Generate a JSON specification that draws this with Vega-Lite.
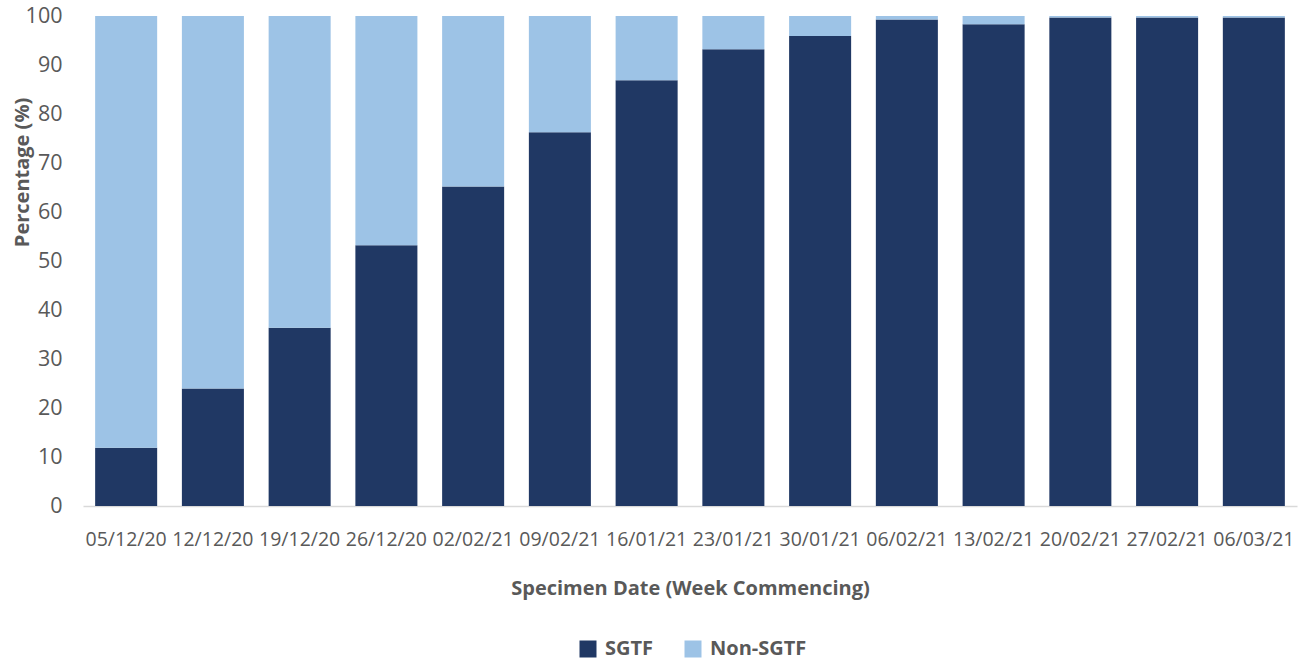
{
  "$schema": "https://vega.github.io/schema/vega-lite/v6.json",
  "width": 1214,
  "height": 490,
  "autosize": {"type": "none"},
  "padding": {"left": 83, "top": 16, "right": 3, "bottom": 154},
  "background": "white",
  "config": {
    "view": {"stroke": null},
    "font": "Open Sans",
    "axis": {"labelColor": "#595959", "titleColor": "#595959"},
    "legend": {"labelColor": "#595959"}
  },
  "data": {
    "values": [
      {"date": "05/12/20", "series": "SGTF", "value": 11.9},
      {"date": "05/12/20", "series": "Non-SGTF", "value": 88.1},
      {"date": "12/12/20", "series": "SGTF", "value": 24.0},
      {"date": "12/12/20", "series": "Non-SGTF", "value": 76.0},
      {"date": "19/12/20", "series": "SGTF", "value": 36.4},
      {"date": "19/12/20", "series": "Non-SGTF", "value": 63.6},
      {"date": "26/12/20", "series": "SGTF", "value": 53.2},
      {"date": "26/12/20", "series": "Non-SGTF", "value": 46.8},
      {"date": "02/02/21", "series": "SGTF", "value": 65.2},
      {"date": "02/02/21", "series": "Non-SGTF", "value": 34.8},
      {"date": "09/02/21", "series": "SGTF", "value": 76.3},
      {"date": "09/02/21", "series": "Non-SGTF", "value": 23.7},
      {"date": "16/01/21", "series": "SGTF", "value": 86.9},
      {"date": "16/01/21", "series": "Non-SGTF", "value": 13.1},
      {"date": "23/01/21", "series": "SGTF", "value": 93.2},
      {"date": "23/01/21", "series": "Non-SGTF", "value": 6.8},
      {"date": "30/01/21", "series": "SGTF", "value": 95.9},
      {"date": "30/01/21", "series": "Non-SGTF", "value": 4.1},
      {"date": "06/02/21", "series": "SGTF", "value": 99.3},
      {"date": "06/02/21", "series": "Non-SGTF", "value": 0.7},
      {"date": "13/02/21", "series": "SGTF", "value": 98.3},
      {"date": "13/02/21", "series": "Non-SGTF", "value": 1.7},
      {"date": "20/02/21", "series": "SGTF", "value": 99.7},
      {"date": "20/02/21", "series": "Non-SGTF", "value": 0.3},
      {"date": "27/02/21", "series": "SGTF", "value": 99.7},
      {"date": "27/02/21", "series": "Non-SGTF", "value": 0.3},
      {"date": "06/03/21", "series": "SGTF", "value": 99.7},
      {"date": "06/03/21", "series": "Non-SGTF", "value": 0.3}
    ]
  },
  "mark": {"type": "bar"},
  "encoding": {
    "x": {
      "field": "date",
      "type": "nominal",
      "sort": null,
      "scale": {"paddingInner": 0.285, "paddingOuter": 0.14},
      "axis": {
        "title": "Specimen Date (Week Commencing)",
        "labelAngle": 0,
        "labelFontSize": 19.5,
        "labelPadding": 24,
        "ticks": false,
        "domainColor": "#d9d9d9",
        "domainWidth": 1.5,
        "titleFontSize": 20,
        "titleFontWeight": "bold",
        "titlePadding": 30
      }
    },
    "y": {
      "field": "value",
      "type": "quantitative",
      "stack": "zero",
      "scale": {"domain": [0, 100]},
      "axis": {
        "title": "Percentage (%)",
        "values": [0, 10, 20, 30, 40, 50, 60, 70, 80, 90, 100],
        "grid": false,
        "ticks": false,
        "domain": false,
        "labelFontSize": 21.5,
        "labelPadding": 21,
        "titleFontSize": 20,
        "titleFontWeight": "bold",
        "titleAngle": -90,
        "titleAlign": "center",
        "titleBaseline": "middle",
        "titleX": -61,
        "titleY": 156
      }
    },
    "color": {
      "field": "series",
      "type": "nominal",
      "scale": {"domain": ["SGTF", "Non-SGTF"], "range": ["#203864", "#9DC3E6"]},
      "legend": {
        "title": null,
        "orient": "none",
        "legendX": 495,
        "legendY": 623,
        "direction": "horizontal",
        "symbolType": "square",
        "symbolSize": 289,
        "symbolStrokeWidth": 0,
        "labelFontSize": 20,
        "labelFontWeight": "bold",
        "labelOffset": 7,
        "columnPadding": 29
      }
    },
    "order": {"field": "series", "sort": "descending"}
  }
}
